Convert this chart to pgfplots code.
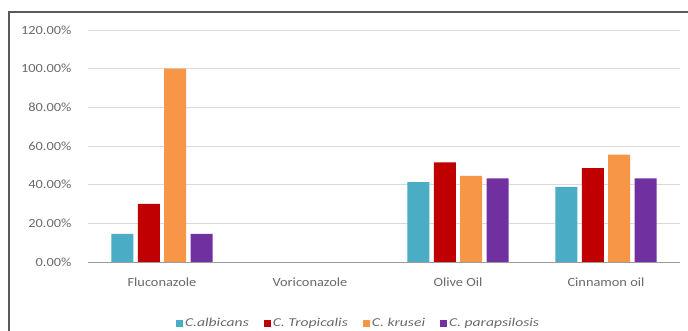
\documentclass[border=0pt]{standalone}
\usepackage{pgfplots}
\pgfplotsset{compat=1.18}
\usepackage{fontspec}
\setmainfont{Carlito}[FakeStretch=1.15]
\newfontfamily\legfont{Carlito}[FakeStretch=1.3]
\definecolor{cblue}{HTML}{4BACC6}
\definecolor{cred}{HTML}{C00000}
\definecolor{corange}{HTML}{F79646}
\definecolor{cpurple}{HTML}{7030A0}
\definecolor{tgrey}{HTML}{595959}
\definecolor{ggrey}{HTML}{D9D9D9}
\begin{document}
\begin{tikzpicture}[x=1pt,y=1pt]
\useasboundingbox (0,0) rectangle (688,331);
\clip (0,0) rectangle (688,331);
\fill[white] (0,0) rectangle (688,331);
\draw[tgrey, line width=1.5pt] (9,-5) -- (9,319) -- (700,319);
\begin{axis}[
  at={(88pt,69pt)}, anchor=south west,
  scale only axis, width=592pt, height=232pt,
  xmin=-0.5, xmax=3.5, ymin=0, ymax=120,
  axis line style={draw=none},
  ymajorgrids, grid style={ggrey, line width=0.8pt},
  ytick={0,20,40,60,80,100,120},
  yticklabels={0.00\%,20.00\%,40.00\%,60.00\%,80.00\%,100.00\%,120.00\%},
  xtick={0,1,2,3},
  xticklabels={Fluconazole,Voriconazole,Olive Oil,Cinnamon oil},
  major tick length=0pt,
  tick label style={font=\fontsize{12.5}{14}\selectfont, text=tgrey!90},
  yticklabel style={xshift=-13pt},
  xticklabel style={yshift=-12pt},
  ybar, bar width=0.148,
  legend columns=4,
  legend style={draw=none, fill=none, at={(0.457,-0.265)}, anchor=center,
    font=\legfont\fontsize{12}{13}\selectfont\itshape, text=tgrey!90,
    /tikz/every even column/.append style={column sep=13pt}},
  legend image code/.code={\fill[#1] (0pt,-3.5pt) rectangle (7pt,3.5pt);},
  extra y ticks={0}, extra y tick labels={},
  extra y tick style={grid style={tgrey!60, line width=0.8pt}},
]
\addplot[fill=cblue, draw=none, bar shift=-0.268] coordinates {(0,14.5) (2,41.3) (3,38.8)};
\addplot[fill=cred, draw=none, bar shift=-0.089] coordinates {(0,30) (2,51.5) (3,48.6)};
\addplot[fill=corange, draw=none, bar shift=0.089] coordinates {(0,100) (2,44.6) (3,55.6)};
\addplot[fill=cpurple, draw=none, bar shift=0.268] coordinates {(0,14.5) (2,43.2) (3,43.2)};
\legend{C.albicans, C. Tropicalis, C. krusei, C. parapsilosis}
\end{axis}
\end{tikzpicture}
\end{document}
